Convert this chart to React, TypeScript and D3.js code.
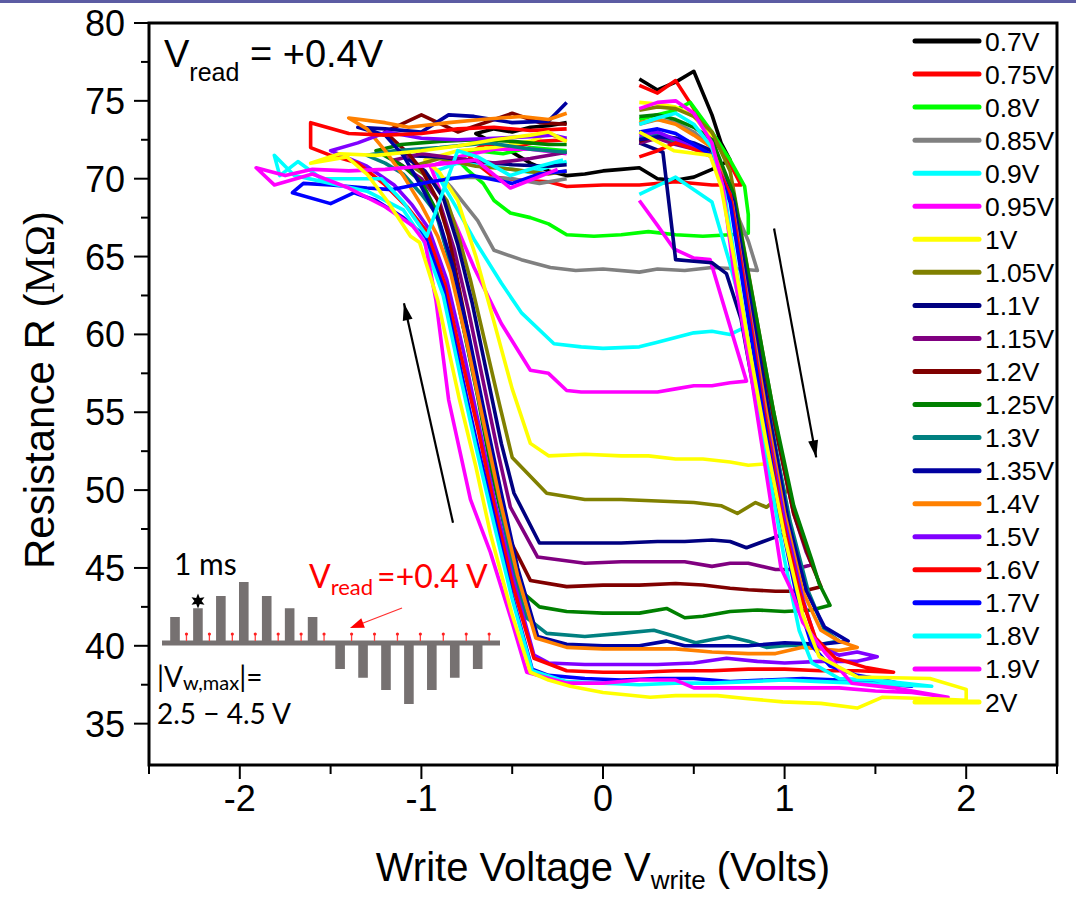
import React from "react";
import * as d3 from "d3";

// legend / series
const seriesNames = ["0.7V", "0.75V", "0.8V", "0.85V", "0.9V", "0.95V", "1V", "1.05V", "1.1V", "1.15V",
  "1.2V", "1.25V", "1.3V", "1.35V", "1.4V", "1.5V", "1.6V", "1.7V", "1.8V", "1.9V", "2V"];
const seriesColors = ["#000000", "#ff0000", "#00ff00", "#808080", "#00ffff", "#ff00ff", "#ffff00", "#808000",
  "#000080", "#800080", "#800000", "#008000", "#008080", "#0000a0", "#ff8000", "#8000ff", "#ff0000",
  "#0000ff", "#00ffff", "#ff00ff", "#ffff00"];

const xTicks = [-2, -1, 0, 1, 2];
const xMinorTicks = [-2.5, -1.5, -0.5, 0.5, 1.5, 2.5];
const yTicks = [35, 40, 45, 50, 55, 60, 65, 70, 75, 80];
const yMinorTicks = [37.5, 42.5, 47.5, 52.5, 57.5, 62.5, 67.5, 72.5, 77.5];

// [write voltage (V), resistance (MOhm)]
const loop070 = [[0.2,76.4],[0.3,75.7],[0.4,76.2],[0.5,76.9],[0.6,74.1],[0.65,72.3],[0.7,71.2],[0.6,70.6],[0.5,70.1],[0.4,69.9],[0.3,70.0],[0.2,70.7],[0.1,70.6],[0,70.5],[-0.1,70.3],[-0.2,70.2],[-0.3,70.5],[-0.4,71.0],[-0.5,71.7],[-0.6,72.3],[-0.7,72.9],[-0.6,73.2],[-0.5,73.0],[-0.4,73.3],[-0.3,73.4],[-0.2,73.6]];
const loop075 = [[0.2,76.0],[0.3,75.5],[0.4,76.3],[0.5,74.5],[0.6,72.6],[0.68,71.4],[0.76,69.6],[0.6,69.6],[0.4,69.8],[0.2,69.6],[0,69.6],[-0.2,69.5],[-0.3,69.8],[-0.45,69.9],[-0.6,70.1],[-0.7,71.0],[-0.75,71.6],[-0.65,72.2],[-0.5,72.0],[-0.35,72.4],[-0.2,72.5]];
const loop080 = [[0.2,73.8],[0.3,74.1],[0.4,74.4],[0.48,74.9],[0.6,73.0],[0.7,71.2],[0.78,69.5],[0.8,67.7],[0.8,66.5],[0.7,66.4],[0.55,66.3],[0.4,66.4],[0.25,66.6],[0.1,66.4],[-0.05,66.3],[-0.2,66.4],[-0.3,67.1],[-0.4,67.5],[-0.51,67.8],[-0.6,68.6],[-0.66,69.7],[-0.75,70.6],[-0.8,71.2],[-0.7,71.8],[-0.55,71.6],[-0.4,72.0],[-0.2,71.8]];
const loop085 = [[0.2,73.5],[0.3,73.8],[0.4,73.6],[0.5,73.0],[0.6,72.0],[0.72,68.2],[0.8,66.0],[0.85,64.1],[0.75,64.2],[0.6,64.3],[0.45,64.1],[0.3,64.2],[0.2,64.0],[0,64.2],[-0.15,64.1],[-0.29,64.3],[-0.45,64.8],[-0.6,65.4],[-0.69,67.3],[-0.84,69.5],[-0.88,70.0],[-0.73,70.1],[-0.5,70.0],[-0.35,69.7],[-0.2,70.0]];
const loop090 = [[0.2,69.0],[0.4,70.1],[0.6,68.5],[0.7,64.5],[0.79,60.5],[0.7,60.0],[0.6,60.2],[0.5,60.1],[0.4,59.8],[0.3,59.5],[0.2,59.2],[0,59.1],[-0.12,59.2],[-0.27,59.4],[-0.45,61.4],[-0.56,63.3],[-0.71,66.1],[-0.8,68.0],[-0.88,69.6],[-0.92,70.5],[-0.8,71.0],[-0.6,70.8],[-0.4,70.4],[-0.2,71.1]];
const loop095 = [[0.2,68.6],[0.3,67.0],[0.39,65.5],[0.5,64.9],[0.59,64.8],[0.7,60.5],[0.79,57.0],[0.7,56.9],[0.6,56.7],[0.5,56.7],[0.4,56.5],[0.3,56.3],[0.1,56.3],[-0.12,56.3],[-0.2,56.4],[-0.3,57.5],[-0.4,57.7],[-0.56,60.7],[-0.71,64.3],[-0.82,67.3],[-0.9,69.3],[-0.95,70.8],[-0.8,71.4],[-0.6,71.9],[-0.4,71.9],[-0.2,71.6]];
const loop100 = [[0.2,74.9],[0.3,74.8],[0.4,74.6],[0.5,74.0],[0.6,72.6],[0.7,69.0],[0.8,62.5],[0.88,56.5],[0.93,53.0],[0.92,51.7],[0.8,51.6],[0.7,51.8],[0.55,52.0],[0.4,52.0],[0.25,52.2],[0.1,52.2],[-0.1,52.3],[-0.3,52.2],[-0.4,53.0],[-0.5,56.5],[-0.6,60.8],[-0.7,65.0],[-0.8,68.6],[-0.9,70.4],[-0.98,71.2],[-0.8,71.8],[-0.6,72.0],[-0.4,72.4],[-0.3,72.9],[-0.2,72.4]];
const loop105 = [[0.2,74.4],[0.3,74.6],[0.4,74.5],[0.5,74.0],[0.6,73.0],[0.7,70.5],[0.8,64.0],[0.9,57.5],[0.98,52.5],[1.02,50.0],[0.9,48.9],[0.84,49.2],[0.74,48.5],[0.65,49.0],[0.5,49.2],[0.3,49.3],[0.1,49.4],[-0.1,49.4],[-0.31,49.8],[-0.5,52.1],[-0.57,55.5],[-0.65,59.5],[-0.73,63.5],[-0.8,66.5],[-0.86,68.6],[-0.95,70.0],[-1.05,70.8],[-0.9,71.3],[-0.7,70.8],[-0.5,70.6],[-0.3,70.3],[-0.2,70.5]];
const loop110 = [[0.2,72.3],[0.33,71.7],[0.4,64.8],[0.5,64.7],[0.6,64.6],[0.68,63.9],[0.76,61.0],[0.86,54.5],[0.95,49.0],[1.0,47.2],[0.93,46.9],[0.79,46.3],[0.7,46.7],[0.6,46.8],[0.45,46.7],[0.3,46.7],[0.1,46.6],[-0.1,46.6],[-0.35,46.6],[-0.49,49.8],[-0.56,53.0],[-0.64,57.5],[-0.72,62.0],[-0.8,65.8],[-0.88,68.8],[-0.98,70.5],[-1.1,71.5],[-0.9,71.4],[-0.7,71.1],[-0.5,70.9],[-0.3,70.8],[-0.2,70.9]];
const loop115 = [[0.2,72.3],[0.3,72.6],[0.4,72.2],[0.5,71.9],[0.6,71.5],[0.73,68.0],[0.84,61.0],[0.95,54.0],[1.05,48.5],[1.12,46.0],[1.15,45.2],[1.05,44.9],[0.95,44.9],[0.8,45.3],[0.7,45.3],[0.6,45.1],[0.45,45.4],[0.3,45.4],[0.1,45.4],[-0.1,45.3],[-0.36,45.7],[-0.51,48.9],[-0.58,52.5],[-0.66,57.0],[-0.74,61.5],[-0.82,65.5],[-0.9,68.5],[-1.0,70.0],[-1.15,71.2],[-1.0,71.6],[-0.8,71.3],[-0.6,71.0],[-0.4,71.3],[-0.2,71.7]];
const loop120 = [[0.2,72.4],[0.3,72.8],[0.4,72.6],[0.5,72.2],[0.6,71.8],[0.72,68.5],[0.83,61.5],[0.94,54.5],[1.05,48.5],[1.14,45.5],[1.2,43.8],[1.1,43.5],[0.95,43.5],[0.8,43.6],[0.7,43.7],[0.55,43.9],[0.4,44.0],[0.2,43.9],[0,43.9],[-0.2,43.8],[-0.4,44.2],[-0.53,47.2],[-0.6,51.0],[-0.67,55.5],[-0.75,60.5],[-0.85,66.3],[-0.91,68.6],[-1.0,70.6],[-1.07,71.6],[-1.2,73.0],[-1.0,74.1],[-0.8,73.0],[-0.5,74.2],[-0.35,73.6],[-0.2,73.5]];
const loop125 = [[0.2,74.0],[0.3,74.1],[0.4,73.8],[0.5,73.3],[0.6,72.5],[0.72,69.0],[0.83,62.0],[0.94,55.0],[1.05,49.0],[1.15,45.5],[1.19,44.0],[1.25,42.6],[1.15,42.3],[1.0,42.2],[0.85,42.3],[0.7,42.2],[0.55,41.9],[0.45,41.8],[0.35,42.4],[0.2,42.1],[0,42.1],[-0.2,42.2],[-0.35,42.5],[-0.46,43.6],[-0.53,47.0],[-0.61,51.0],[-0.69,56.0],[-0.77,60.5],[-0.85,65.0],[-0.92,68.0],[-1.0,69.8],[-1.1,70.8],[-1.25,71.8],[-1.11,72.2],[-0.9,72.4],[-0.7,72.5],[-0.5,72.4],[-0.3,72.2],[-0.2,72.2]];
const loop130 = [[0.2,72.6],[0.3,72.8],[0.4,72.4],[0.5,72.0],[0.6,71.5],[0.72,68.0],[0.82,61.0],[0.93,54.0],[1.03,48.0],[1.13,43.5],[1.22,41.0],[1.3,40.3],[1.2,40.1],[1.0,40.0],[0.9,39.9],[0.8,40.3],[0.69,40.6],[0.6,40.4],[0.51,40.2],[0.4,40.6],[0.28,41.0],[0.1,40.8],[-0.1,40.6],[-0.31,40.8],[-0.42,41.8],[-0.5,45.0],[-0.58,50.0],[-0.67,55.0],[-0.76,60.0],[-0.84,64.5],[-0.92,67.8],[-1.0,69.0],[-1.1,70.3],[-1.2,71.0],[-1.3,71.5],[-1.15,71.8],[-0.9,72.0],[-0.63,72.3],[-0.4,71.9],[-0.2,71.7]];
const loop135 = [[0.2,72.5],[0.3,72.7],[0.4,72.6],[0.5,72.3],[0.6,71.8],[0.72,68.5],[0.82,61.5],[0.92,54.5],[1.02,48.0],[1.12,43.5],[1.22,41.2],[1.35,40.3],[1.2,40.1],[1.0,40.2],[0.8,40.0],[0.6,40.0],[0.45,40.0],[0.35,40.3],[0.2,40.0],[0,40.0],[-0.2,40.1],[-0.36,40.6],[-0.47,45.0],[-0.56,49.8],[-0.65,54.8],[-0.74,60.0],[-0.83,64.5],[-0.9,67.2],[-1.0,69.5],[-1.1,71.5],[-1.2,72.8],[-1.35,73.3],[-1.2,73.2],[-1.0,73.0],[-0.85,74.1],[-0.71,74.0],[-0.5,73.6],[-0.3,73.7],[-0.2,74.9]];
const loop140 = [[0.2,73.6],[0.3,73.8],[0.4,73.5],[0.5,72.8],[0.6,72.0],[0.71,68.5],[0.8,62.0],[0.9,55.0],[1.0,48.5],[1.1,43.5],[1.2,41.0],[1.3,40.3],[1.4,39.9],[1.3,39.7],[1.1,39.9],[0.95,39.5],[0.8,39.5],[0.6,39.6],[0.4,39.8],[0.2,39.8],[0,39.8],[-0.2,39.9],[-0.37,40.5],[-0.47,44.5],[-0.57,49.5],[-0.66,54.5],[-0.75,59.5],[-0.84,64.0],[-0.91,66.3],[-1.0,68.3],[-1.1,70.2],[-1.2,71.8],[-1.3,73.2],[-1.4,73.9],[-1.2,73.6],[-1.07,73.3],[-0.85,73.6],[-0.67,73.8],[-0.45,74.0],[-0.3,73.8],[-0.2,74.2]];
const loop150 = [[0.2,72.8],[0.3,73.0],[0.4,72.5],[0.5,72.0],[0.6,71.5],[0.7,69.0],[0.79,62.5],[0.89,55.0],[1.0,48.0],[1.1,43.0],[1.18,40.0],[1.3,39.4],[1.4,39.6],[1.51,39.3],[1.4,39.0],[1.2,39.0],[1.0,38.9],[0.85,39.0],[0.68,39.2],[0.5,38.9],[0.3,38.8],[0.1,38.8],[-0.1,38.8],[-0.3,38.9],[-0.38,39.4],[-0.5,44.5],[-0.6,49.5],[-0.68,54.0],[-0.77,59.0],[-0.86,63.5],[-0.96,66.8],[-1.05,68.3],[-1.15,69.6],[-1.3,70.8],[-1.5,71.8],[-1.35,72.3],[-1.19,73.0],[-1.0,72.6],[-0.8,72.5],[-0.6,72.6],[-0.4,72.7],[-0.28,72.8],[-0.2,72.6]];
const loop160 = [[0.2,71.4],[0.3,71.8],[0.4,72.3],[0.5,71.9],[0.6,71.4],[0.7,69.0],[0.78,63.0],[0.88,55.5],[0.98,48.5],[1.08,43.5],[1.17,40.5],[1.28,39.2],[1.45,38.6],[1.6,38.3],[1.4,38.4],[1.2,38.4],[1.0,38.5],[0.8,38.5],[0.6,38.4],[0.4,38.4],[0.2,38.3],[0,38.3],[-0.2,38.4],[-0.38,39.2],[-0.5,44.0],[-0.6,49.0],[-0.69,54.0],[-0.78,58.5],[-0.87,63.2],[-0.97,66.6],[-1.08,68.2],[-1.2,69.6],[-1.35,71.0],[-1.5,71.5],[-1.61,72.0],[-1.61,73.6],[-1.4,72.9],[-1.2,72.8],[-1.0,72.9],[-0.8,73.2],[-0.6,73.3],[-0.4,73.1],[-0.2,73.2]];
const loop170 = [[0.2,73.0],[0.3,73.2],[0.4,72.9],[0.5,72.2],[0.6,71.5],[0.7,68.5],[0.78,62.5],[0.88,55.0],[0.98,48.0],[1.07,43.0],[1.15,40.0],[1.25,38.7],[1.4,38.1],[1.55,37.8],[1.7,37.4],[1.5,37.6],[1.3,37.8],[1.1,37.9],[0.9,37.8],[0.7,37.7],[0.5,37.9],[0.3,37.9],[0.1,37.8],[-0.1,37.9],[-0.3,38.1],[-0.39,38.5],[-0.5,43.2],[-0.6,48.3],[-0.7,53.3],[-0.78,57.5],[-0.88,63.0],[-0.98,66.3],[-1.1,67.5],[-1.25,68.6],[-1.37,69.1],[-1.5,68.4],[-1.71,69.1],[-1.65,69.7],[-1.5,69.6],[-1.3,69.4],[-1.16,69.3],[-0.95,69.8],[-0.72,70.2],[-0.5,69.7],[-0.35,70.3],[-0.2,70.5]];
const loop180 = [[0.2,73.5],[0.3,73.9],[0.4,74.2],[0.5,73.5],[0.6,72.0],[0.67,69.0],[0.73,64.5],[0.8,59.5],[0.9,52.0],[1.0,45.5],[1.08,41.0],[1.15,38.9],[1.3,37.9],[1.5,37.8],[1.81,37.4],[1.6,37.5],[1.4,37.6],[1.2,37.7],[1.0,37.8],[0.8,37.7],[0.6,37.6],[0.4,37.6],[0.2,37.5],[0,37.6],[-0.2,37.7],[-0.39,38.4],[-0.5,43.0],[-0.6,47.8],[-0.7,52.8],[-0.78,57.0],[-0.88,62.5],[-0.99,66.1],[-1.1,68.0],[-1.3,69.2],[-1.5,69.7],[-1.7,70.2],[-1.81,71.5],[-1.78,70.2],[-1.68,71.1],[-1.55,70.0],[-1.22,70.0],[-1.1,68.5],[-0.97,66.3],[-0.8,71.8],[-0.69,71.4],[-0.51,70.2],[-0.35,70.8],[-0.22,71.2]];
const loop190 = [[0.2,74.5],[0.3,74.9],[0.4,75.0],[0.5,74.2],[0.6,72.3],[0.66,69.5],[0.72,64.0],[0.8,58.5],[0.9,51.0],[0.98,45.0],[1.04,43.5],[1.1,41.5],[1.22,39.6],[1.37,37.6],[1.6,37.3],[1.9,36.7],[1.7,37.0],[1.5,37.1],[1.3,37.3],[1.1,37.3],[0.9,37.3],[0.7,37.3],[0.5,37.3],[0.4,37.8],[0.2,37.8],[0,37.6],[-0.2,37.6],[-0.42,38.3],[-0.5,41.5],[-0.62,46.0],[-0.73,49.4],[-0.85,55.8],[-0.92,62.2],[-0.98,65.9],[-1.05,67.0],[-1.2,68.2],[-1.4,69.4],[-1.6,70.3],[-1.81,69.6],[-1.91,70.7],[-1.75,70.2],[-1.6,70.6],[-1.4,70.5],[-1.2,70.6],[-1.0,70.8],[-0.85,71.0],[-0.7,71.2],[-0.51,69.4],[-0.25,70.6]];
const loop200 = [[0.2,73.0],[0.39,71.8],[0.59,71.5],[0.65,69.5],[0.72,65.0],[0.8,59.5],[0.9,53.0],[1.0,47.0],[1.1,42.0],[1.19,39.3],[1.4,38.0],[1.8,37.9],[2.0,37.2],[2.0,36.5],[1.82,36.6],[1.54,36.7],[1.4,36.0],[1.2,36.3],[0.99,36.4],[0.8,36.6],[0.63,36.8],[0.4,36.8],[0.26,36.7],[0,37.0],[-0.18,37.4],[-0.3,37.8],[-0.4,38.3],[-0.5,42.0],[-0.62,47.2],[-0.7,51.5],[-0.79,55.8],[-0.91,62.2],[-1.01,65.9],[-1.06,66.3],[-1.19,68.6],[-1.3,70.3],[-1.41,71.4],[-1.61,71.0],[-1.45,71.6],[-1.25,71.5],[-1.0,71.8],[-0.8,72.1],[-0.6,72.5],[-0.4,72.8],[-0.3,73.0],[-0.2,72.4]];

const loops = [loop070, loop075, loop080, loop085, loop090, loop095, loop100, loop105, loop110, loop115,
  loop120, loop125, loop130, loop135, loop140, loop150, loop160, loop170, loop180, loop190, loop200];

// inset pulse scheme (volts)
const writePos = [2.5, 3.0, 3.7, 4.5, 3.7, 3.0, 2.5];
const writeNeg = [-2.5, -3.0, -3.7, -4.5, -3.7, -3.0, -2.5];
const readV = 0.4;

const FONT = "'Liberation Sans', Arial, sans-serif";
const INSET_FONT = "Lato, 'Open Sans', sans-serif";

function arrowHead(x1, y1, x2, y2, len, half) {
  const a = Math.atan2(y2 - y1, x2 - x1);
  const bx = x2 - len * Math.cos(a), by = y2 - len * Math.sin(a);
  const px = -Math.sin(a) * half, py = Math.cos(a) * half;
  return `M${x2},${y2}L${bx + px},${by + py}L${bx - px},${by - py}Z`;
}

export default function App() {
  const left = 149, right = 1057, top = 23, bottom = 765;
  const x = d3.scaleLinear().domain([-2.5, 2.5]).range([left, right]);
  const y = d3.scaleLinear().domain([80 - (bottom - top) / 15.57, 80]).range([bottom, top]);
  const line = d3.line<number[]>().x(d => x(d[0])).y(d => y(d[1]));
  const legendY = d3.scalePoint<string>().domain(seriesNames).range([41, 702]);

  // inset scales
  const tx = d3.scaleLinear().domain([0, 13.2]).range([175, 477.7]);
  const amp = d3.scaleLinear().domain([0, 0.4, 2.5, 4.5]).range([0, 9, 26, 61]);
  const base = 643;

  // arrows in data units
  const upA = [x(-0.826), y(47.9), x(-1.096), y(62.0)];
  const downA = [x(0.942), y(66.8), x(1.174), y(52.1)];

  const star = d3.range(12).map(i => {
    const r = i % 2 === 0 ? 7.5 : 3.6;
    const a = (i * Math.PI) / 6 - Math.PI / 2;
    return [198 + r * Math.cos(a), 601 + r * Math.sin(a)];
  });

  return (
    <svg width={1076} height={899} style={{ position: "absolute", left: 0, top: 0, background: "#fff" }}>
      <rect x={0} y={0} width={1076} height={3} fill="#5c5ca3" />
      <defs>
        <clipPath id="plot"><rect x={left} y={top} width={right - left} height={bottom - top} /></clipPath>
      </defs>

      <g clipPath="url(#plot)">
        {loops.map((d, i) => (
          <path key={i} d={line(d)} fill="none" stroke={seriesColors[i]} strokeWidth={3.6} strokeLinejoin="round" />
        ))}
      </g>

      {/* frame */}
      <rect x={left} y={top} width={right - left} height={bottom - top} fill="none" stroke="#000" strokeWidth={3} />

      {/* y axis */}
      {yTicks.map(t => (
        <g key={t}>
          <line x1={left - 15} x2={left} y1={y(t)} y2={y(t)} stroke="#000" strokeWidth={2} />
          <text x={125} y={y(t)} dy="0.36em" textAnchor="end" fontFamily={FONT} fontSize={36}>{t}</text>
        </g>
      ))}
      {yMinorTicks.map(t => (
        <line key={t} x1={left - 8} x2={left} y1={y(t)} y2={y(t)} stroke="#000" strokeWidth={2} />
      ))}
      {/* x axis */}
      {xTicks.map(t => (
        <g key={t}>
          <line x1={x(t)} x2={x(t)} y1={bottom} y2={bottom + 14} stroke="#000" strokeWidth={2} />
          <text x={x(t)} y={811} textAnchor="middle" fontFamily={FONT} fontSize={36}>{t}</text>
        </g>
      ))}
      {xMinorTicks.map(t => (
        <line key={t} x1={x(t)} x2={x(t)} y1={bottom} y2={bottom + 9} stroke="#000" strokeWidth={2} />
      ))}

      <text transform="translate(54,390) rotate(-90)" textAnchor="middle" fontFamily={FONT} fontSize={42}>
        Resistance R (<tspan fontFamily="'Liberation Serif', serif">MΩ</tspan>)
      </text>
      <text x={603} y={881} textAnchor="middle" fontFamily={FONT} fontSize={40}>
        Write Voltage V<tspan fontSize={26} dy={8}>write</tspan><tspan dy={-8}> (Volts)</tspan>
      </text>

      <text x={164} y={67} fontFamily={FONT} fontSize={38}>
        V<tspan fontSize={25} dy={14}>read</tspan><tspan dy={-14}> = +0.4V</tspan>
      </text>

      {/* legend */}
      {seriesNames.map((n, i) => (
        <g key={n}>
          <line x1={915} x2={979} y1={legendY(n)} y2={legendY(n)} stroke={seriesColors[i]} strokeWidth={5} strokeLinecap="round" />
          <text x={985} y={legendY(n)} dy="0.36em" fontFamily={FONT} fontSize={26.5}>{n}</text>
        </g>
      ))}

      {/* arrows */}
      <line x1={upA[0]} y1={upA[1]} x2={upA[2]} y2={upA[3]} stroke="#000" strokeWidth={2.2} />
      <path d={arrowHead(upA[0], upA[1], upA[2], upA[3], 17, 5)} fill="#000" />
      <line x1={downA[0]} y1={downA[1]} x2={downA[2]} y2={downA[3]} stroke="#000" strokeWidth={2.2} />
      <path d={arrowHead(downA[0], downA[1], downA[2], downA[3], 17, 5)} fill="#000" />

      {/* inset pulse scheme */}
      <g>
        {writePos.map((v, i) => (
          <rect key={"p" + i} x={tx(i) - 4.8} y={base - amp(v)} width={9.6} height={amp(v)} fill="#767171" />
        ))}
        {writeNeg.map((v, i) => (
          <rect key={"n" + i} x={tx(7.2 + i) - 4.8} y={base} width={9.6} height={amp(-v)} fill="#767171" />
        ))}
        <line x1={162} x2={500} y1={base} y2={base} stroke="#767171" strokeWidth={5} />
        {[...writePos.map((_, i) => i + 0.5), ...writeNeg.map((_, i) => 7.7 + i)].map((t, i) => (
          <g key={"r" + i}>
            <line x1={tx(t)} x2={tx(t)} y1={base - 2} y2={base - amp(readV)} stroke="#ff4040" strokeWidth={1.3} />
            <circle cx={tx(t)} cy={base - amp(readV)} r={1.6} fill="#ff2020" />
          </g>
        ))}
        <path d={"M" + star.map(p => p.join(",")).join("L") + "Z"} fill="#000" />
        <text x={174} y={575} fontFamily={INSET_FONT} fontSize={30}>1 ms</text>
        <text x={309} y={588} fontFamily={INSET_FONT} fontSize={32} fill="#ff0000">
          V<tspan fontSize={22} dy={7}>read</tspan><tspan dy={-7} dx={4}>=+0.4 V</tspan>
        </text>
        <line x1={402} y1={608} x2={358} y2={625} stroke="#ff3030" strokeWidth={1.3} />
        <path d={arrowHead(402, 608, 350, 628, 14, 5)} fill="#ff0000" />
        <text x={157} y={687} fontFamily={INSET_FONT} fontSize={28}>
          |V<tspan fontSize={20} dy={3}>w,max</tspan><tspan dy={-3}>|=</tspan>
        </text>
        <text x={157} y={724} fontFamily={INSET_FONT} fontSize={28}>2.5 − 4.5 V</text>
      </g>
    </svg>
  );
}
